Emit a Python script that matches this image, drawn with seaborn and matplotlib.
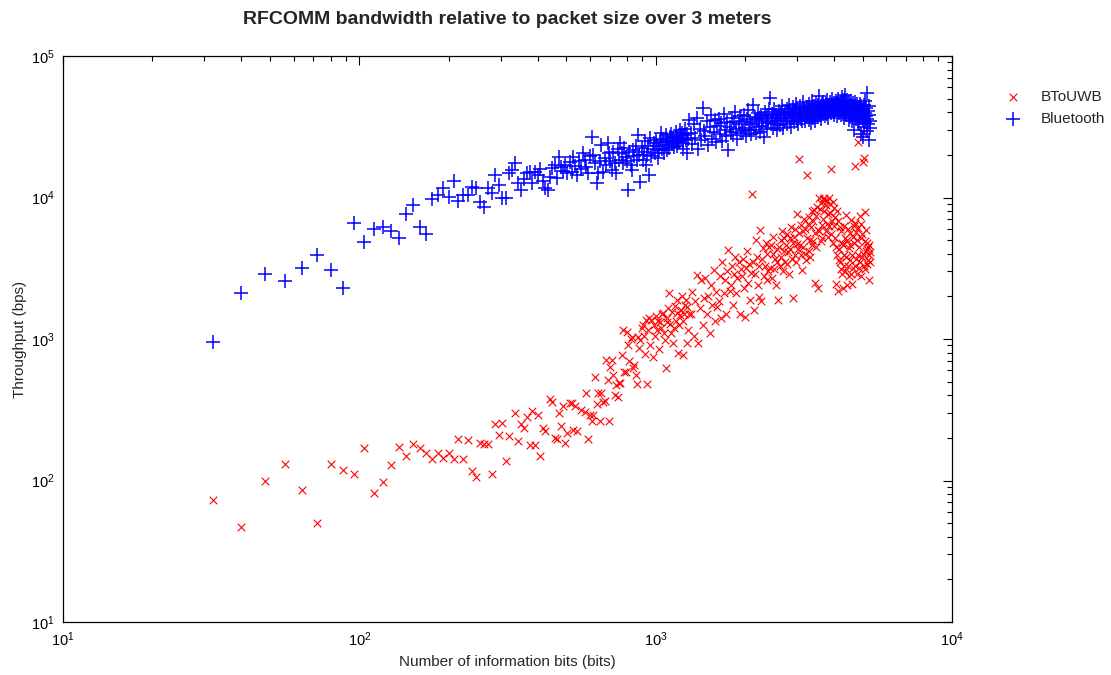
import pandas as pd
import matplotlib
matplotlib.use("Agg")
import matplotlib.pyplot as plt
import seaborn as sns

# packet sizes (bits) and throughput (bps), sparse part
bits_low_bt = [32, 40, 48, 56, 64, 72, 80, 88, 96, 104, 112, 120, 128, 136, 144, 152, 160, 168, 176, 184,
               192, 200, 208, 216, 224, 232, 240, 248, 256, 264, 272, 280, 288, 296, 304, 312, 320, 328, 336, 344,
               352, 360, 368, 376, 384, 392, 400, 408, 416, 424, 432, 440, 448, 456, 464, 472, 480, 488, 496, 504,
               512, 520, 528, 536, 544, 552, 560, 568, 576, 584, 592, 600, 608, 616, 624, 632, 640, 648, 656, 664,
               672, 680, 688, 696, 704, 712, 720, 728, 736, 744, 752, 760, 768, 776, 784, 792, 800, 808, 816, 824,
               832, 840, 848, 856, 864, 872, 880, 888, 896, 904, 912, 920, 928, 936, 944, 952, 960, 968, 976, 984,
               992, 1000, 1008, 1016, 1024, 1032, 1040, 1048, 1056, 1064, 1072, 1080, 1088, 1096, 1104, 1112, 1120, 1128, 1136, 1144,
               1152, 1160, 1168, 1176, 1184, 1192, 1200, 1208, 1216, 1224, 1232, 1240, 1248, 1256, 1264, 1272, 1280, 1288, 1296]
bps_low_bt = [950, 2110, 2880, 2570, 3180, 3930, 3080, 2290, 6600, 4850, 5990, 6190, 5800, 5170, 7640, 8850, 6190, 5520, 9760, 10400,
              11700, 10100, 13100, 9440, 10400, 10400, 11870, 11700, 9290, 8560, 11700, 10800, 14420, 12250, 9920, 9920, 14900, 15640, 17530, 12650,
              11300, 13500, 14900, 15150, 12650, 15150, 14420, 16000, 13000, 11700, 11300, 14000, 16150, 16950, 13800, 19320, 16400, 15500, 17000, 14900,
              17800, 15200, 19320, 16800, 14420, 18000, 15800, 20600, 18500, 16400, 15000, 19500, 26800, 20000, 17500, 12650, 14900, 18200, 23500, 15150,
              19000, 17000, 24270, 20500, 18000, 15640, 21000, 17500, 14900, 22000, 18500, 24270, 20600, 17500, 22500, 19320, 18000, 11300, 21000, 17000,
              15640, 21660, 19500, 23000, 18500, 27700, 20000, 12880, 22500, 18400, 21000, 25000, 16950, 20000, 23000, 14420, 26300, 19500, 22000, 24270,
              20500, 25500, 23000, 19000, 21660, 24500, 28600, 22000, 26000, 20600, 23500, 27500, 21500, 25000, 24680, 22500, 26800, 28000, 24000, 26500,
              22750, 25000, 29000, 23000, 27000, 25500, 24500, 30000, 26500, 28500, 22000, 24270, 27500, 30500, 25500, 28000, 20600, 26000, 35300]

bits_low_uwb = [32, 40, 48, 56, 64, 72, 80, 88, 96, 104, 112, 120, 128, 136, 144, 152, 160, 168, 176, 184,
                192, 200, 208, 216, 224, 232, 240, 248, 256, 264, 272, 280, 288, 296, 304, 312, 320, 336, 344, 352,
                360, 368, 376, 384, 392, 400, 408, 416, 424, 440, 448, 456, 464, 472, 480, 488, 496, 504, 512, 520,
                528, 536, 544, 560, 576, 584, 592, 600, 608, 616, 624, 632, 640, 648, 656, 664, 672, 680, 688, 696,
                704, 712, 720, 728, 736, 744, 752, 760, 768, 776, 784, 792, 800, 808, 816, 824, 832, 840, 848, 856,
                864, 872, 880, 888, 896, 904, 912, 920, 928, 936, 944, 952, 960, 968, 976, 984, 992, 1000, 1008, 1016,
                1024, 1032, 1040, 1048, 1056, 1064, 1072, 1080, 1088, 1096, 1104, 1112, 1120, 1128, 1136, 1144, 1152, 1160, 1168, 1176,
                1184, 1192, 1200, 1208, 1216, 1224, 1232, 1240, 1248, 1256, 1264, 1272, 1280, 1288, 1296]
bps_low_uwb = [73, 47, 99, 131, 86, 50, 131, 119, 111, 170, 82, 98, 129, 172, 149, 181, 170, 156, 142, 156,
               144, 156, 142, 198, 142, 193, 117, 106, 185, 180, 182, 111, 252, 211, 256, 137, 205, 298, 190, 252,
               234, 280, 177, 308, 177, 290, 149, 234, 222, 376, 358, 201, 198, 298, 241, 336, 185, 217, 352, 352,
               228, 336, 222, 315, 303, 413, 198, 290, 262, 290, 540, 346, 413, 262, 413, 358, 364, 711, 513, 262,
               630, 711, 560, 400, 470, 386, 485, 485, 775, 1158, 580, 580, 1120, 904, 700, 1000, 1031, 620, 660, 560,
               478, 1031, 862, 980, 1197, 1250, 1050, 780, 1362, 478, 1150, 1400, 900, 1362, 750, 1250, 1050, 1450, 1158, 1350,
               850, 1317, 1200, 1500, 1523, 1100, 984, 620, 1400, 1317, 1650, 2125, 1280, 1100, 1550, 935, 1200, 1700, 1350, 1523,
               1900, 796, 1250, 1474, 1600, 2000, 1350, 766, 1500, 1748, 1900, 1690, 935, 1158, 1500]

# dense part, shared packet sizes
bits_high = [1312, 1328, 1344, 1360, 1376, 1392, 1408, 1424, 1440, 1456,
             1472, 1488, 1504, 1520, 1536, 1552, 1568, 1584, 1600, 1616,
             1632, 1648, 1664, 1680, 1696, 1712, 1728, 1744, 1760, 1776,
             1792, 1808, 1824, 1840, 1856, 1872, 1888, 1904, 1920, 1936,
             1952, 1968, 1984, 2000, 2016, 2032, 2048, 2064, 2080, 2096,
             2112, 2128, 2144, 2160, 2176, 2192, 2208, 2224, 2240, 2256,
             2272, 2288, 2304, 2320, 2336, 2352, 2368, 2384, 2400, 2416,
             2432, 2448, 2464, 2480, 2496, 2512, 2528, 2544, 2560, 2576,
             2592, 2608, 2624, 2640, 2656, 2672, 2688, 2704, 2720, 2736,
             2752, 2768, 2784, 2800, 2816, 2832, 2848, 2864, 2880, 2896,
             2912, 2928, 2944, 2960, 2976, 2992, 3008, 3024, 3040, 3056,
             3072, 3088, 3104, 3120, 3136, 3152, 3168, 3184, 3200, 3216,
             3232, 3248, 3264, 3280, 3296, 3312, 3328, 3344, 3360, 3376,
             3392, 3408, 3424, 3440, 3456, 3472, 3488, 3504, 3520, 3536,
             3552, 3568, 3584, 3600, 3616, 3632, 3648, 3664, 3680, 3696,
             3712, 3728, 3744, 3760, 3776, 3792, 3808, 3824, 3840, 3856,
             3872, 3888, 3904, 3920, 3936, 3952, 3968, 3984, 4000, 4016,
             4032, 4048, 4064, 4080, 4096, 4112, 4128, 4144, 4160, 4176,
             4192, 4208, 4224, 4240, 4256, 4272, 4288, 4304, 4320, 4336,
             4352, 4368, 4384, 4400, 4416, 4432, 4448, 4464, 4480, 4496,
             4512, 4528, 4544, 4560, 4576, 4592, 4608, 4624, 4640, 4656,
             4672, 4688, 4704, 4720, 4736, 4752, 4768, 4784, 4800, 4816,
             4832, 4848, 4864, 4880, 4896, 4912, 4928, 4944, 4960, 4976,
             4992, 5008, 5024, 5040, 5056, 5072, 5088, 5104, 5120, 5136,
             5152, 5168, 5184, 5200, 5216, 5232, 5248, 5264, 5280, 5296]

bps_high_bt = [28600, 24000, 33000, 26500, 36500, 22000, 30500, 25500, 42900, 29500,
               27000, 34500, 23500, 31500, 38000, 26000, 29000, 35500, 24500, 32000,
               36000, 28000, 33500, 25000, 39000, 30000, 27000, 34000, 21700, 31500,
               29000, 36500, 27500, 34000, 40000, 30500, 26000, 33000, 37500, 28500,
               35000, 29500, 38500, 31000, 27000, 36000, 41500, 30000, 34000, 28000,
               33000, 45000, 30000, 37000, 28500, 35500, 39500, 31500, 36500, 29000,
               38000, 32000, 36000, 26800, 40500, 33500, 30500, 37500, 34500, 42000,
               50500, 34000, 39000, 31000, 36500, 42500, 33000, 38500, 30000, 37000,
               35000, 41000, 32500, 39500, 36000, 44000, 31000, 38000, 34500, 40500,
               36500, 42000, 33000, 39500, 45000, 35000, 40000, 31500, 38500, 43500,
               37000, 34000, 41500, 39000, 46000, 35500, 42500, 33000, 40000, 37500,
               44000, 36000, 40500, 34500, 47500, 38000, 42000, 35000, 41000, 39500,
               37000, 43500, 40000, 35500, 45500, 38500, 42000, 33500, 41500, 48000,
               39000, 36500, 44500, 41000, 34500, 46500, 38000, 42500, 37000, 45000,
               40000, 52000, 38000, 43500, 36000, 45500, 41500, 39000, 47000, 42000,
               44000, 37500, 46000, 40500, 48500, 39000, 43000, 36500, 45000, 41000,
               47500, 42000, 39500, 45000, 50000, 41000, 44000, 38500, 46500, 43000,
               40500, 48000, 44500, 37500, 46000, 42000, 49500, 39500, 45500, 41500,
               44000, 38000, 47000, 42500, 51000, 40000, 45500, 36500, 48500, 43500,
               53000, 41000, 46000, 38500, 44500, 49000, 40000, 43000, 35500, 47000,
               42000, 37000, 45000, 40500, 48000, 34500, 43500, 39000, 46500, 41000,
               30000, 44000, 38500, 47500, 36000, 42000, 39500, 45500, 34000, 41000,
               43500, 33000, 39000, 46000, 36500, 41500, 28000, 44500, 38000, 40500,
               26800, 42000, 35500, 45000, 31500, 39500, 48000, 34000, 37500, 43000,
               54600, 36000, 29500, 41000, 33000, 44500, 25500, 38500, 31000, 35000]

bps_high_uwb = [1500, 2150, 1050, 1850, 2840, 935, 1650, 2600, 1250, 1950,
                2700, 1500, 2000, 1100, 2400, 1750, 3075, 1350, 2150, 1690,
                1850, 2800, 1400, 3500, 2100, 2600, 1500, 3000, 4260, 2200,
                2400, 3300, 1750, 2900, 3800, 2100, 2700, 3500, 1500, 3100,
                2800, 3700, 2300, 1440, 3200, 4200, 2500, 3400, 1900, 2950,
                10600, 3500, 1600, 2900, 5010, 3800, 2400, 1980, 3300, 5890,
                1850, 3700, 4400, 2800, 3300, 4800, 2600, 4000, 3000, 4500,
                3200, 4600, 2700, 4000, 5300, 3100, 3700, 2400, 4300, 3500,
                1900, 4500, 3300, 5000, 3800, 5800, 3000, 4200, 5200, 3500,
                4600, 3400, 5500, 4100, 2900, 5200, 4300, 6200, 3700, 4800,
                1950, 5300, 3900, 6000, 3500, 4700, 7650, 4300, 5600, 18700,
                4600, 6400, 3900, 3075, 5800, 4500, 7000, 4000, 6000, 3600,
                5200, 14400, 6500, 4200, 7300, 5000, 3800, 6200, 8000, 4600,
                6800, 4900, 8200, 2500, 5600, 7400, 4500, 8600, 5900, 2300,
                10000, 5800, 8300, 4900, 9200, 6400, 5200, 9700, 7000, 10000,
                8000, 9600, 5800, 8900, 6500, 9400, 5300, 7600, 9900, 6300,
                7800, 9000, 5500, 15900, 6800, 9300, 4800, 6300, 8400, 5200,
                7300, 2450, 4500, 8000, 3900, 2200, 6800, 4300, 3600, 6200,
                3500, 3100, 5800, 4800, 2900, 2300, 4600, 3300, 6300, 3900,
                5200, 3000, 7500, 3800, 2400, 5000, 3300, 6000, 2800, 4400,
                3600, 5600, 4600, 2900, 6900, 3900, 2450, 5300, 3200, 6300,
                4800, 3300, 6600, 16700, 3700, 5700, 2900, 5000, 24600, 3900,
                6100, 3200, 4500, 7400, 3500, 5200, 2800, 6500, 3800, 5500,
                28500, 4000, 17800, 3300, 19000, 4900, 7960, 3100, 4200, 5900,
                4300, 3400, 4800, 3600, 4500, 3900, 2600, 4600, 3500, 4100]

uwb = pd.DataFrame({"bits": bits_low_uwb + bits_high, "bps": bps_low_uwb + bps_high_uwb})
bt = pd.DataFrame({"bits": bits_low_bt + bits_high, "bps": bps_low_bt + bps_high_bt})

sns.set_style("white")
plt.rcParams["font.family"] = ["Liberation Sans", "DejaVu Sans"]
plt.rcParams["mathtext.default"] = "regular"

W, H = 1111, 675
fig = plt.figure(figsize=(W / 100, H / 100), dpi=100)
ax = fig.add_axes([63 / W, 1 - 622 / H, (952 - 63) / W, (622 - 56) / H])

sns.scatterplot(data=uwb, x="bits", y="bps", marker="x", color="red", s=30, linewidth=0.8,
                label="BToUWB", ax=ax)
sns.scatterplot(data=bt, x="bits", y="bps", marker="+", color="blue", s=90, linewidth=1.1,
                label="Bluetooth", ax=ax)

ax.set_xscale("log")
ax.set_yscale("log")
ax.set_xlim(10, 1e4)
ax.set_ylim(10, 1e5)

ax.tick_params(which="both", direction="in", top=True, right=True, labelsize=10.5, colors="black")
ax.tick_params(which="major", length=6.5, width=0.8, pad=6)
ax.tick_params(which="minor", length=3.5, width=0.8)
for sp in ax.spines.values():
    sp.set_color("black")
    sp.set_linewidth(0.9)

ax.set_xlabel("Number of information bits (bits)", fontsize=11)
ax.set_ylabel("Throughput (bps)", fontsize=11)
ax.xaxis.set_label_coords(0.5, -0.058)
ax.yaxis.set_label_coords(-0.041, 0.5)

fig.text(507 / W, 1 - 19 / H, "RFCOMM bandwidth relative to packet size over 3 meters",
         ha="center", va="center", fontsize=14, fontweight="bold")

ax.legend(loc="upper left", bbox_to_anchor=(992 / W, 1 - 84 / H), bbox_transform=fig.transFigure,
          frameon=False, fontsize=11, borderaxespad=0, handletextpad=0.8, handlelength=2.0)

fig.savefig("out.png", dpi=100)
